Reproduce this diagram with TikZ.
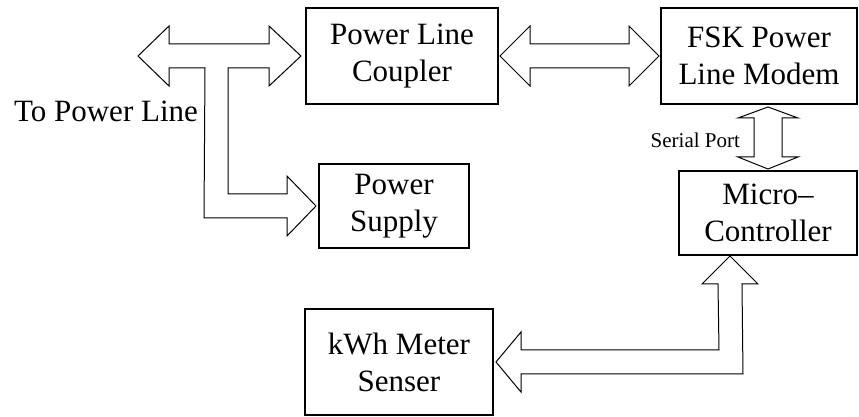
\documentclass[tikz,border=0pt]{standalone}
\usepackage{fontspec}
\setmainfont{Liberation Serif}
\usetikzlibrary{calc}

\begin{document}
\begin{tikzpicture}[
			x=0.5pt,
			y=-0.5pt,
			box/.style={
				draw,
				line width=1pt,
				align=center,
				inner sep=0pt,
				font=\fontsize{15.5}{18.5}\selectfont
			},
			hollow/.style={
				draw,
				line width=0.5pt,
				fill=white
			}
			]
			
			\useasboundingbox (0,0) rectangle (859,417);
			
			\node[box,minimum width=96pt,minimum height=48pt] (coupler) at (402,56)
			{Power Line\\Coupler};
			
			\node[box,minimum width=98pt,minimum height=48pt] (fsk) at (759,56)
			{FSK Power\\Line Modem};
			
			\node[box,minimum width=75pt,minimum height=42pt] (supply) at (394,206)
			{Power\\Supply};
			
			\node[box,minimum width=89pt,minimum height=42pt] (micro) at (768,213)
			{Micro--\\Controller};
			
			\node[box,minimum width=94pt,minimum height=53pt] (kwh) at (399,362)
			{kWh Meter\\Senser};
			
			\coordinate (line) at (138,56);
			\node[font=\fontsize{15.5}{18}\selectfont] (toline) at (106,111) {To Power Line};
			
			\draw[hollow] (line) -- ($(line)+(31,-30)$) -- ($(line)+(31,-12)$)
				-- ($(coupler.west)+(-36,-12)$) -- ($(coupler.west)+(-36,-30)$)
				-- ($(coupler.west)+(-4,0)$)
				-- ($(coupler.west)+(-36,30)$) -- ($(coupler.west)+(-36,12)$)
				-- ($(supply.west)+(-90,-138)$) -- ($(supply.west)+(-90,-12)$)
				-- ($(supply.west)+(-31,-12)$) -- ($(supply.west)+(-31,-30)$)
				-- ($(supply.west)+(-2,0)$)
				-- ($(supply.west)+(-31,30)$) -- ($(supply.west)+(-31,12)$)
				-- ($(supply.west)+(-114,12)$) -- ($(line)+(67,12)$)
				-- ($(line)+(31,12)$) -- ($(line)+(31,30)$) -- cycle;
			
			\draw[hollow] ($(coupler.east)+(1,0)$) -- ($(coupler.east)+(31,-30)$)
				-- ($(coupler.east)+(31,-12)$) -- ($(fsk.west)+(-31,-12)$)
				-- ($(fsk.west)+(-31,-30)$) -- ($(fsk.west)+(-1,0)$)
				-- ($(fsk.west)+(-31,30)$) -- ($(fsk.west)+(-31,12)$)
				-- ($(coupler.east)+(31,12)$) -- ($(coupler.east)+(31,30)$) -- cycle;
			
			\coordinate (modemout) at (micro.north |- fsk.south);
			\draw[hollow] ($(modemout)+(0,2)$) -- ($(modemout)+(30,13)$)
				-- ($(modemout)+(14,13)$) -- ($(micro.north)+(14,-13)$)
				-- ($(micro.north)+(30,-13)$) -- ($(micro.north)+(0,-1)$)
				-- ($(micro.north)+(-30,-13)$) -- ($(micro.north)+(-14,-13)$)
				-- ($(modemout)+(-14,13)$) -- ($(modemout)+(-30,13)$) -- cycle;
			\node[font=\fontsize{10.5}{12}\selectfont,anchor=east] (port) at (747,140) {Serial Port};
			
			\draw[hollow] ($(micro.south)+(-38,0)$) -- ($(micro.south)+(-10,28)$)
				-- ($(micro.south)+(-26,28)$) -- ($(kwh.east)+(249,12)$)
				-- ($(kwh.east)+(27,12)$) -- ($(kwh.east)+(27,30)$)
				-- ($(kwh.east)+(2,0)$)
				-- ($(kwh.east)+(27,-30)$) -- ($(kwh.east)+(27,-12)$)
				-- ($(kwh.east)+(225,-12)$) -- ($(micro.south)+(-50,28)$)
				-- ($(micro.south)+(-66,28)$) -- cycle;
			
		\end{tikzpicture}
\end{document}
